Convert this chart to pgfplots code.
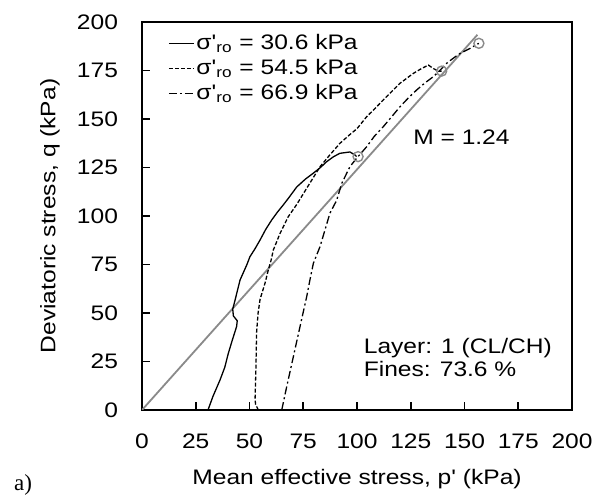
\documentclass[border=0pt]{standalone}
\usepackage{fontspec}
\setmainfont{Liberation Sans}[Ligatures=TeXOff, FakeStretch=1.17]
\newfontfamily\seriffont{Liberation Serif}
\usepackage{pgfplots}
\pgfplotsset{compat=1.18}
\definecolor{mgray}{HTML}{8A8A8A}
\begin{document}
\begin{tikzpicture}
\begin{axis}[
  scale only axis, width=215pt, height=194pt,
  xmin=0, xmax=200, ymin=0, ymax=200,
  xtick={0,25,...,200}, ytick={0,25,...,200},
  tick align=inside, xtick pos=bottom, ytick pos=left,
  major tick length=4pt,
  axis line style={line width=0.8pt},
  tick style={line width=0.8pt, black},
  /pgf/number format/assume math mode=true,
  tick label style={font=\fontsize{10.5}{12}\selectfont},
  xticklabel style={yshift=-8.5pt},
  yticklabel style={xshift=-8.5pt},
  label style={font=\fontsize{10.5}{12}\selectfont},
  xlabel={Mean effective stress, p' (kPa)},
  ylabel={Deviatoric stress, q (kPa)},
  xlabel style={at={(axis description cs:0.5,-0.178)}, anchor=center},
  ylabel style={at={(axis description cs:-0.214,0.5)}, anchor=center},
  legend style={at={(rel axis cs:0.06,0.976)}, anchor=north west, draw=none, fill=none,
    font=\fontsize{10.5}{12}\selectfont, row sep=0.5pt, inner sep=0pt,
    nodes={inner sep=1pt, text height=8pt, text depth=2pt}},
  legend cell align=left,
  legend image code/.code={\draw[#1] (0pt,0pt) -- (12.5pt,0pt);},
]
\coordinate (BL) at (rel axis cs:0,0);
\coordinate (TR) at (rel axis cs:1,1);
\addplot[mgray, line width=0.9pt, forget plot] coordinates {(0,0) (156,193.4)};
\addplot[black, line width=0.65pt] coordinates {
(30.7,0) (33,7) (36.3,15.5) (38.5,22) (40.1,29) (42,36) (44,43) (44.3,46) (42.5,48.5)
(42.2,52) (43.3,56.7) (45.6,67) (48.7,74.7) (50.2,79) (52.5,83) (54.9,87.6) (57.5,93)
(60.3,97.9) (63,102) (65.7,105.7) (68,109) (72,115) (76,119) (79.6,122) (83,125)
(85.9,128) (89,130.5) (92,132.3) (96.7,133) (99,131.5) (99.8,130.6)};
\addlegendentry{σ'\textsubscript{ro} = 30.6 kPa}
\addplot[black, line width=0.65pt, dash pattern=on 2pt off 1pt] coordinates {
(54.1,0) (52.8,3) (52.6,6) (53,22) (53.3,40) (54,50) (54.9,57) (57.2,65.3) (58.7,72)
(60,77) (61.1,82.5) (64.2,91) (68,99.6) (72,106) (77,115) (82.8,125.4) (87,131)
(92.1,137.5) (96.7,142) (100,145) (104.5,151.2) (108,155) (112.2,159.8) (116,164)
(120,168.4) (126.2,173.5) (130,176) (133.2,177.8) (135.5,176) (138,174.6) (139.4,174.7)};
\addlegendentry{σ'\textsubscript{ro} = 54.5 kPa}
\addplot[black, line width=0.65pt, dash pattern=on 4pt off 1.5pt on 1pt off 1.5pt] coordinates {
(65,0) (67.3,12) (70.4,27.5) (73.5,43) (76.6,58.4) (78.1,67) (79.7,75.6) (82.8,84.2)
(85.1,92.8) (87.4,101.4) (90.5,108) (93,117) (96.7,125.4) (100,130) (104.5,135.7)
(108,141) (112.2,146) (116,151) (120,156.3) (124,161) (127.8,165) (131.5,168.5)
(135.5,171.8) (138.5,175) (141.7,178.7) (145,181.5) (147.9,183.8) (152.6,186.4)
(155,188) (156.7,189)};
\addlegendentry{σ'\textsubscript{ro} = 66.9 kPa}
\addplot[only marks, mark=o, mark size=2.5pt, mgray, line width=0.7pt, forget plot]
  coordinates {(100.5,130.6) (139.4,174.7) (156.7,189)};
\node[anchor=west, font=\fontsize{10.5}{12}\selectfont, inner sep=0pt] at (axis cs:126,140.7) {M = 1.24};
\node[anchor=west, font=\fontsize{10.5}{12}\selectfont, inner sep=0pt] at (axis cs:103,32) {Layer: 1 (CL/CH)};
\node[anchor=west, font=\fontsize{10.5}{12}\selectfont, inner sep=0pt] at (axis cs:103,21) {Fines: 73.6 \%};
\end{axis}
\node[anchor=center, font=\seriffont\fontsize{11.5}{13}\selectfont, inner sep=0pt] at ([shift={(-59.5pt,-37.5pt)}]BL) {a)};
\pgfresetboundingbox
\path ([shift={(-71pt,-42.5pt)}]BL) rectangle ([shift={(11pt,11pt)}]TR);
\end{tikzpicture}
\end{document}
